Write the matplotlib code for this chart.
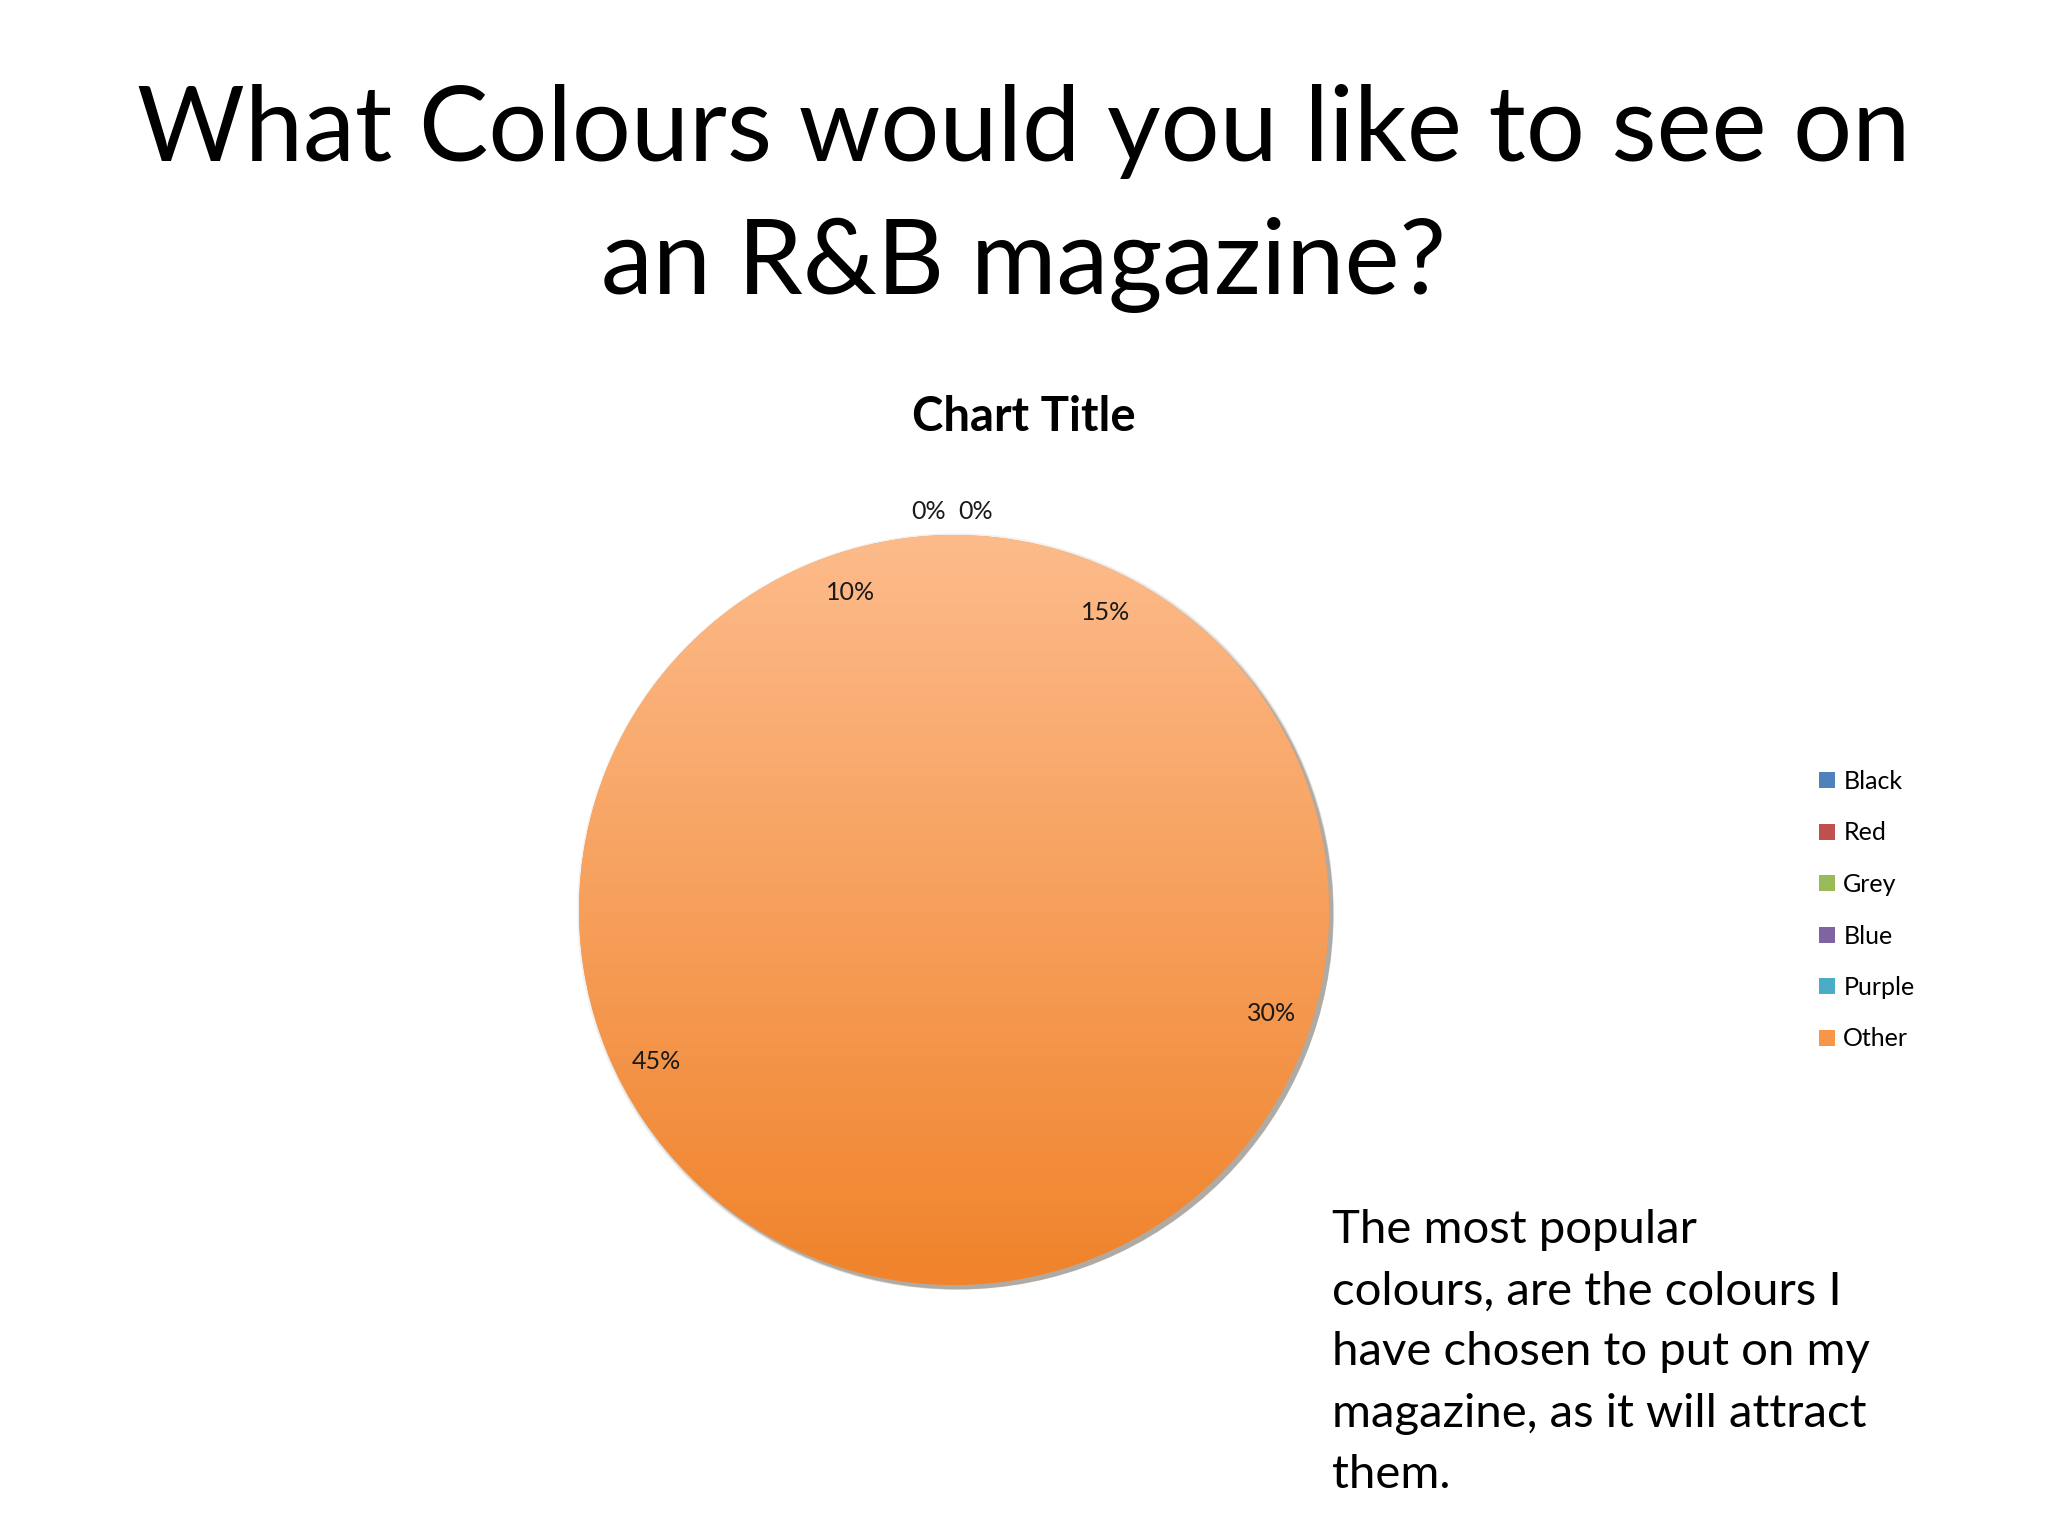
import numpy as np
import matplotlib.pyplot as plt
from matplotlib.patches import Patch, Circle
from matplotlib.colors import LinearSegmentedColormap

# --- data ---
categories = ['Black', 'Red', 'Grey', 'Blue', 'Purple', 'Other']
shares = [0, 0, 15, 30, 45, 10]
legend_colors = ['#4F81BD', '#C0504D', '#9BBB59', '#8064A2', '#4BACC6', '#F79646']

title_lines = ['What Colours would you like to see on', 'an R&B magazine?']
chart_title = 'Chart Title'
note_lines = ['The most popular',
              'colours, are the colours I',
              'have chosen to put on my',
              'magazine, as it will attract',
              'them.']

W, H = 2048, 1536
plt.rcParams['font.family'] = ['Lato', 'DejaVu Sans']
fig = plt.figure(figsize=(W / 100, H / 100), dpi=100)
fig.patch.set_facecolor('white')


def fx(px):
    return px / W


def fy(py):
    return 1 - py / H


# --- slide title ---
fig.text(0.5, fy(161), title_lines[0], ha='center', va='baseline', fontsize=75)
fig.text(0.5, fy(294), title_lines[1], ha='center', va='baseline', fontsize=75)

# --- chart title ---
fig.text(fx(1024), fy(431), chart_title, ha='center', va='baseline',
         fontsize=34, fontweight='bold')

# --- pie ---
cx, cy, r = 954, 910, 375
ax = fig.add_axes([fx(cx - r), 1 - (cy + r) / H, 2 * r / W, 2 * r / H])

# soft shadow (down-right)
for i, a in enumerate([0.06, 0.09, 0.13, 0.2]):
    off = 0.004 + 0.0025 * i
    ax.add_patch(Circle((off, -off), 1.0 + 0.003 * (3 - i), color='#3f3020',
                        alpha=a, lw=0, zorder=0, clip_on=False))

wedges, texts, autotexts = ax.pie(
    shares, startangle=90, counterclock=False, radius=1.0,
    colors=['#F79646'] * len(shares), autopct='%1.0f%%', pctdistance=0.89,
    textprops={'fontsize': 18, 'color': '#1a1a1a'},
    wedgeprops={'linewidth': 0})

# every slice uses the same orange gradient, so shade the whole disc at once
grad_cmap = LinearSegmentedColormap.from_list('orange_grad', ['#F0832B', '#FDBB8B'])
grad = np.linspace(0, 1, 256).reshape(-1, 1)
disc = Circle(wedges[0].center, wedges[0].r, transform=ax.transData)
im = ax.imshow(grad, cmap=grad_cmap, extent=(-1, 1, -1, 1), origin='lower',
               aspect='auto', zorder=wedges[0].get_zorder() + 0.1)
im.set_clip_path(disc)

# zero-value labels are pushed outside the top of the pie, side by side
zero_idx = [i for i, v in enumerate(shares) if v == 0]
for k, i in enumerate(zero_idx):
    autotexts[i].set_position((-0.068 + 0.125 * k, 1.063))
for t in autotexts:
    t.set_zorder(5)
    t.set_clip_on(False)

ax.set_xlim(-1, 1)
ax.set_ylim(-1, 1)
ax.set_aspect('equal')
ax.axis('off')

# --- legend ---
handles = [Patch(facecolor=c, edgecolor='none') for c in legend_colors]
fig.legend(handles, categories, loc='upper left',
           bbox_to_anchor=(fx(1819), fy(770)), frameon=False,
           fontsize=18, handlelength=0.62, handleheight=0.62,
           handletextpad=0.35, labelspacing=1.14, borderpad=0,
           borderaxespad=0)

# --- note ---
for i, line in enumerate(note_lines):
    fig.text(fx(1332), fy(1243 + 61.2 * i), line, ha='left', va='baseline',
             fontsize=34)

fig.savefig('out.png', dpi=100, facecolor='white')
